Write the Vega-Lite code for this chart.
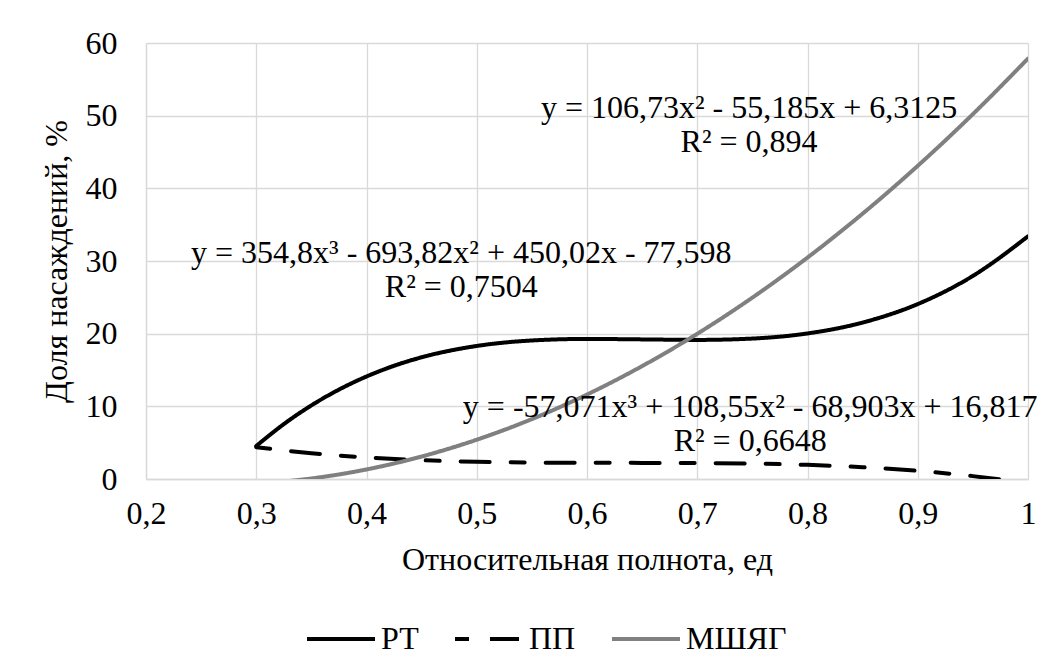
{
  "$schema": "https://vega.github.io/schema/vega-lite/v6.json",
  "width": 882,
  "height": 436,
  "autosize": {"type": "none"},
  "padding": {"left": 146, "top": 43, "right": 24, "bottom": 192},
  "background": "white",
  "config": {
    "font": "Liberation Serif",
    "view": {"stroke": null},
    "axis": {
      "labelFont": "Liberation Serif",
      "titleFont": "Liberation Serif",
      "labelFontSize": 32,
      "titleFontSize": 32,
      "titleFontWeight": "normal",
      "labelColor": "#000000",
      "titleColor": "#000000",
      "ticks": false,
      "domainColor": "#d9d9d9",
      "domainWidth": 1.3,
      "gridColor": "#d9d9d9",
      "gridWidth": 1.3
    },
    "legend": {
      "labelFont": "Liberation Serif",
      "labelFontSize": 32,
      "labelColor": "#000000"
    }
  },
  "layer": [
    {
      "data": {
        "values": [
          {"x": 0.3, "y": 4.544, "s": "РТ"},
          {"x": 0.325, "y": 7.554, "s": "РТ"},
          {"x": 0.35, "y": 10.128, "s": "РТ"},
          {"x": 0.375, "y": 12.301, "s": "РТ"},
          {"x": 0.4, "y": 14.106, "s": "РТ"},
          {"x": 0.425, "y": 15.576, "s": "РТ"},
          {"x": 0.45, "y": 16.744, "s": "РТ"},
          {"x": 0.5, "y": 18.307, "s": "РТ"},
          {"x": 0.55, "y": 19.062, "s": "РТ"},
          {"x": 0.6, "y": 19.276, "s": "РТ"},
          {"x": 0.65, "y": 19.213, "s": "РТ"},
          {"x": 0.7, "y": 19.141, "s": "РТ"},
          {"x": 0.75, "y": 19.325, "s": "РТ"},
          {"x": 0.8, "y": 20.031, "s": "РТ"},
          {"x": 0.85, "y": 21.526, "s": "РТ"},
          {"x": 0.9, "y": 24.075, "s": "РТ"},
          {"x": 0.95, "y": 27.945, "s": "РТ"},
          {"x": 1.0, "y": 33.402, "s": "РТ"},
          {"x": 0.3, "y": 4.375, "s": "ПП"},
          {"x": 0.35, "y": 3.551, "s": "ПП"},
          {"x": 0.4, "y": 2.971, "s": "ПП"},
          {"x": 0.45, "y": 2.591, "s": "ПП"},
          {"x": 0.5, "y": 2.369, "s": "ПП"},
          {"x": 0.55, "y": 2.262, "s": "ПП"},
          {"x": 0.6, "y": 2.226, "s": "ПП"},
          {"x": 0.65, "y": 2.219, "s": "ПП"},
          {"x": 0.7, "y": 2.199, "s": "ПП"},
          {"x": 0.75, "y": 2.122, "s": "ПП"},
          {"x": 0.8, "y": 1.946, "s": "ПП"},
          {"x": 0.85, "y": 1.628, "s": "ПП"},
          {"x": 0.9, "y": 1.125, "s": "ПП"},
          {"x": 0.95, "y": 0.395, "s": "ПП"},
          {"x": 0.975, "y": -0.07, "s": "ПП"},
          {"x": 1.0, "y": -0.607, "s": "ПП"},
          {"x": 0.3, "y": -0.637, "s": "МШЯГ"},
          {"x": 0.325, "y": -0.349, "s": "МШЯГ"},
          {"x": 0.35, "y": 0.072, "s": "МШЯГ"},
          {"x": 0.4, "y": 1.315, "s": "МШЯГ"},
          {"x": 0.45, "y": 3.092, "s": "МШЯГ"},
          {"x": 0.5, "y": 5.403, "s": "МШЯГ"},
          {"x": 0.55, "y": 8.247, "s": "МШЯГ"},
          {"x": 0.6, "y": 11.624, "s": "МШЯГ"},
          {"x": 0.65, "y": 15.536, "s": "МШЯГ"},
          {"x": 0.7, "y": 19.981, "s": "МШЯГ"},
          {"x": 0.75, "y": 24.959, "s": "МШЯГ"},
          {"x": 0.8, "y": 30.472, "s": "МШЯГ"},
          {"x": 0.85, "y": 36.518, "s": "МШЯГ"},
          {"x": 0.9, "y": 43.097, "s": "МШЯГ"},
          {"x": 0.95, "y": 50.211, "s": "МШЯГ"},
          {"x": 1.0, "y": 57.858, "s": "МШЯГ"}
        ]
      },
      "mark": {"type": "line", "clip": true, "strokeWidth": 4, "interpolate": "monotone", "strokeCap": "round"},
      "encoding": {
        "x": {
          "field": "x",
          "type": "quantitative",
          "scale": {"domain": [0.2, 1], "nice": false, "zero": false},
          "axis": {
            "title": "Относительная полнота, ед",
            "values": [0.2, 0.3, 0.4, 0.5, 0.6, 0.7, 0.8, 0.9, 1],
            "labelExpr": "replace(format(datum.value, '.1~f'), '.', ',')",
            "labelFont": "Liberation Serif",
            "labelFontSize": 32,
            "titleFont": "Liberation Serif",
            "labelPadding": 19,
            "titlePadding": 15,
            "labelFlush": false
          }
        },
        "y": {
          "field": "y",
          "type": "quantitative",
          "scale": {"domain": [0, 60], "nice": false},
          "axis": {
            "title": "Доля насаждений, %",
            "values": [0, 10, 20, 30, 40, 50, 60],
            "labelFont": "Liberation Serif",
            "labelFontSize": 32,
            "titleFont": "Liberation Serif",
            "labelPadding": 29,
            "titlePadding": 12
          }
        },
        "color": {
          "field": "s",
          "type": "nominal",
          "scale": {"domain": ["РТ", "ПП", "МШЯГ"], "range": ["#000000", "#000000", "#808080"]},
          "legend": {
            "title": null,
            "orient": "none",
            "direction": "horizontal",
            "legendX": 159,
            "legendY": 560,
            "symbolType": "stroke",
            "symbolSize": 4624,
            "symbolStrokeWidth": 4,
            "labelFont": "Liberation Serif",
            "labelFontSize": 32,
            "labelOffset": 4,
            "columnPadding": 28
          }
        },
        "strokeDash": {
          "field": "s",
          "type": "nominal",
          "scale": {"domain": ["РТ", "ПП", "МШЯГ"], "range": [[1, 0], [14, 21, 29, 21], [1, 0]]},
          "legend": {
            "title": null,
            "orient": "none",
            "direction": "horizontal",
            "legendX": 159,
            "legendY": 560,
            "symbolType": "stroke",
            "symbolSize": 4624,
            "symbolStrokeWidth": 4,
            "labelFont": "Liberation Serif",
            "labelFontSize": 32,
            "labelOffset": 4,
            "columnPadding": 28
          }
        }
      }
    },
    {
      "data": {
        "values": [
          {"x": 0.747, "y": 51.05, "t": "y = 106,73x² - 55,185x + 6,3125\nR² = 0,894"},
          {"x": 0.486, "y": 31.1, "t": "y = 354,8x³ - 693,82x² + 450,02x - 77,598\nR² = 0,7504"},
          {"x": 0.748, "y": 9.9, "t": "y = -57,071x³ + 108,55x² - 68,903x + 16,817\nR² = 0,6648"}
        ]
      },
      "mark": {"type": "text", "fontSize": 32, "font": "Liberation Serif", "lineBreak": "\n", "lineHeight": 34, "align": "center", "baseline": "middle", "color": "#000000"},
      "encoding": {
        "x": {"field": "x", "type": "quantitative"},
        "y": {"field": "y", "type": "quantitative"},
        "text": {"field": "t", "type": "nominal"}
      }
    }
  ]
}
